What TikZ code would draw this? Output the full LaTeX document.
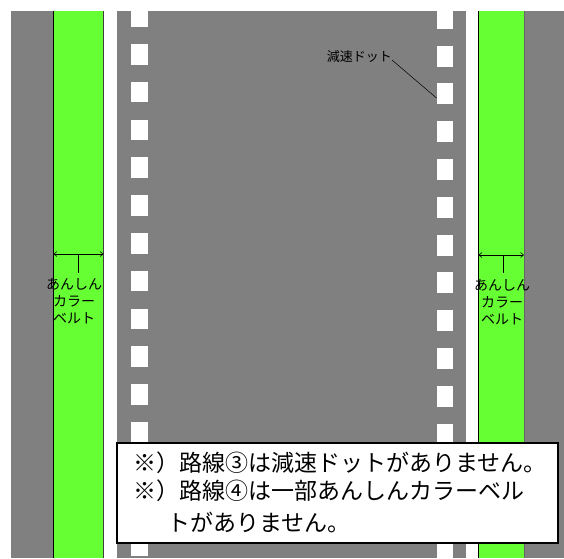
\documentclass[tikz,border=0pt]{standalone}
\usepackage{fontspec}
\newfontfamily\jpsans{Noto Sans CJK JP}
\usetikzlibrary{arrows.meta}
\definecolor{road}{HTML}{808080}
\definecolor{belt}{HTML}{66FF33}
\begin{document}
\begin{tikzpicture}[x=1pt,y=-1pt,
  roadpart/.style={fill=road},
  beltpart/.style={fill=belt},
  dotsq/.style={fill=white},
  edgeline/.style={draw=black,line width=0.8pt},
  lbl/.style={font=\jpsans\fontsize{13}{16.5}\selectfont,inner sep=0pt,align=center,text=black},
  beltlbl/.style={lbl,font=\jpsans\fontsize{14}{16.8}\selectfont},
  note/.style={font=\jpsans\fontsize{23}{28}\selectfont,inner sep=0pt,anchor=base west},
  dim/.style={draw=black,line width=0.6pt},
  dimarrow/.style={dim,{Straight Barb[length=3pt,width=5pt]}-{Straight Barb[length=3pt,width=5pt]}}
]
\useasboundingbox (0,0) rectangle (564,558);
\fill[white] (0,0) rectangle (564,558);
% road surfaces
\fill[roadpart] (11,11) rectangle (104,558);
\fill[roadpart] (117,11) rectangle (466,558);
\fill[roadpart] (478,11) rectangle (564,558);
% safety colour belts
\fill[beltpart] (53,11) rectangle (104,558);
\fill[beltpart] (478,11) rectangle (525,558);
\draw[edgeline] (53.4,11) -- (53.4,558);
\draw[edgeline,draw=black!75] (103.6,11) -- (103.6,558);
\draw[edgeline] (478.4,11) -- (478.4,558);
\draw[edgeline,draw=black!60] (524.6,11) -- (524.6,558);
% deceleration dots
\begin{scope}
\clip (11,11) rectangle (564,558);
\foreach \k in {0,...,14} {
  \fill[dotsq] (131,{6.2+37.8*\k}) rectangle (148,{26.7+37.8*\k});
  \fill[dotsq] (437,{7.7+37.8*\k}) rectangle (453,{28.7+37.8*\k});
}
\end{scope}
% dot label
\node[lbl,anchor=east] (dotlbl) at (392,57) {減速ドット};
\coordinate (dottip) at (436.5,98);
\draw[dim,line width=0.5pt] ([yshift=-3pt]dotlbl.east) -- (dottip);
% left belt dimension
\coordinate (bLl) at (53.5,254);
\coordinate (bLr) at (103.5,254);
\coordinate (bLm) at (78,254);
\coordinate (bLt) at (78,273);
\draw[dimarrow] (bLl) -- (bLr);
\draw[dim] (bLm) -- (bLt);
\node[beltlbl] (beltL) at (74,301) {あんしん\\カラー\\ベルト};
% right belt dimension
\coordinate (bRl) at (478.5,255);
\coordinate (bRr) at (524,255);
\coordinate (bRm) at (503,255);
\coordinate (bRt) at (503,273);
\draw[dimarrow] (bRl) -- (bRr);
\draw[dim] (bRm) -- (bRt);
\node[beltlbl] (beltR) at (502,302) {あんしん\\カラー\\ベルト};
% note box
\draw[fill=white,draw=black,line width=1.5pt] (117,443) rectangle (558,543);
\node[note] (n1) at (133,471.5) {※）路線③は減速ドットがありません。};
\node[note] (n2) at (133,499.5) {※）路線④は一部あんしんカラーベル};
\node[note] (n3) at (167,531) {トがありません。};
\end{tikzpicture}
\end{document}
